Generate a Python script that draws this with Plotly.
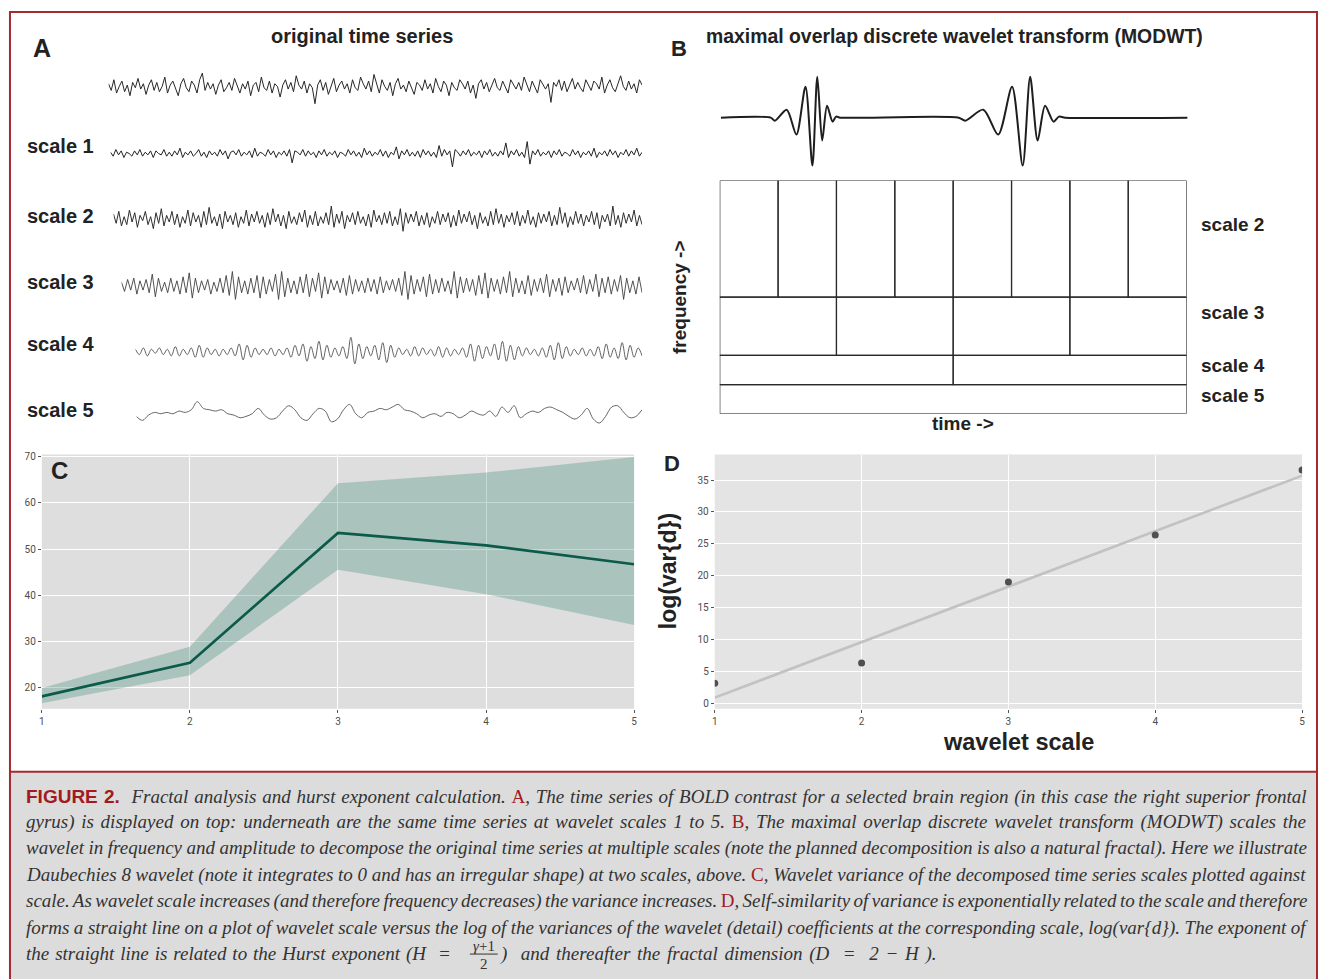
import numpy as np
import plotly.graph_objects as go

W, H = 1323, 979
def px(x): return x / W
def py(y): return 1 - y / H

# ---------------- DATA ----------------
series_labels = ["", "scale 1", "scale 2", "scale 3", "scale 4", "scale 5"]

orig = [3,-2,6,-4,1,5,-3,2,-6,4,0,7,-1,3,-5,2,6,-2,4,-3,
        1,8,-4,2,5,-1,-6,3,7,0,-3,5,2,-4,6,11,-2,4,-1,3,
        -5,2,6,-3,0,4,-2,7,1,-4,3,-1,5,-6,2,4,-3,8,0,-2,
        5,-4,3,1,-7,2,6,-1,4,-3,9,2,-1,5,-4,3,0,-12,2,6,
        -2,4,-5,1,7,-3,2,5,-1,3,-4,6,0,-2,8,3,-1,5,-3,10,
        2,-4,6,1,-2,4,-6,3,7,-1,2,-3,5,0,-5,4,2,-2,6,-1,
        3,-4,7,1,-3,5,2,-6,4,0,-2,6,3,-1,5,-4,2,-8,3,6,
        -1,4,-3,2,7,0,-2,5,1,-4,6,3,-1,4,-2,8,2,-3,5,0,
        -4,6,2,-1,3,-11,4,1,6,-2,5,-3,2,7,-1,4,0,-3,6,2,
        -2,5,3,-1,8,-4,2,6,0,-3,4,9,1,-2,5,-1,3,-4,6,2]
scale1 = [1,-2,3,-1,2,-3,1,0,-2,2,-1,3,-2,1,-1,2,-3,2,0,-1,
          3,-2,1,-2,2,-1,4,-3,1,-1,2,-2,0,3,-2,1,-3,2,-1,1,
          -2,3,-1,2,-4,1,2,-1,3,-2,1,-1,2,-3,4,-2,1,0,-2,3,
          -1,2,-3,1,-1,2,-2,3,-7,2,1,-1,3,-2,2,-1,1,-3,2,-1,
          3,-2,1,-1,2,-3,1,0,-2,3,-1,2,-2,1,-3,4,-1,2,-2,1,
          -1,3,-2,2,-3,1,-1,5,-4,2,-1,3,-2,1,-2,2,-3,3,-1,2,
          -2,1,-3,6,-2,3,-1,2,-10,3,1,-2,2,-1,3,-2,1,-1,2,-3,
          2,-1,3,-2,1,-2,2,-1,8,-3,2,-1,3,-2,1,-3,9,-8,2,-1,
          3,-2,1,-1,2,-3,2,-1,3,-2,1,0,-2,3,-1,2,-3,1,-1,2,
          -2,4,-3,1,-1,2,-2,3,-1,2,-3,1,-1,3,-2,2,-1,4,-2,1]
scale2 = [4,-3,6,-5,2,-4,7,-2,5,-6,3,-1,6,-4,2,-7,5,-3,8,-5,
          3,-2,6,-4,4,-6,2,-3,7,-5,5,-2,3,-6,6,-4,9,-3,2,-5,
          4,-7,6,-2,3,-4,5,-6,2,-3,7,-5,4,-2,6,-3,3,-6,5,-4,
          8,-2,4,-5,3,-7,6,-3,2,-4,5,-2,7,-6,3,-4,6,-5,2,-3,
          5,-4,10,-6,4,-3,6,-7,3,-2,5,-4,6,-3,2,-5,4,-6,7,-2,
          3,-4,5,-3,6,-5,2,-4,8,-9,5,-3,4,-2,6,-5,3,-4,5,-6,
          2,-3,6,-4,4,-2,5,-6,3,-5,7,-3,4,-2,6,-4,3,-7,5,-3,
          2,-5,6,-4,8,-3,4,-6,3,-2,5,-4,6,-5,3,-3,7,-4,2,-6,
          5,-3,4,-2,6,-5,3,-4,9,-3,5,-6,2,-4,6,-3,4,-5,3,-2,
          6,-4,5,-7,3,-2,4,-5,10,-4,3,-6,5,-3,4,-2,7,-5,3,-4]
scale3 = [3,-4,5,-3,6,-6,4,-3,5,-5,9,-8,6,-4,3,-5,6,-4,4,-6,
          7,-5,10,-9,6,-5,4,-3,5,-6,3,-4,6,-5,8,-7,11,-10,7,-5,
          4,-6,6,-5,8,-9,7,-6,5,-4,9,-10,11,-8,6,-5,4,-6,7,-5,
          9,-8,6,-4,10,-9,7,-6,5,-3,4,-5,6,-7,8,-6,5,-4,4,-5,
          6,-4,5,-6,7,-5,4,-3,5,-4,6,-7,11,-10,8,-6,5,-4,7,-8,
          9,-6,5,-5,6,-4,4,-6,11,-9,7,-5,6,-4,5,-7,8,-6,10,-9,
          6,-4,5,-6,7,-5,11,-8,6,-5,4,-6,8,-7,5,-4,6,-5,9,-8,
          5,-4,6,-7,7,-5,4,-3,6,-5,8,-6,5,-4,9,-8,6,-5,7,-6,
          5,-4,8,-10,6,-5,4,-6,7,-5]
scale4 = [2,-2,3,-3,2,-1,3,-2,2,-3,4,-3,2,-2,3,-4,5,-4,3,-2,2,-3,2,-2,3,-3,6,-6,5,-4,3,-2,2,-2,3,-3,2,-2,3,-4,
          5,-3,6,-7,4,-5,8,-6,5,-4,3,-3,4,-5,11,-9,6,-5,4,-3,5,-6,7,-8,5,-4,3,-2,2,-3,4,-3,3,-2,2,-3,4,-4,
          3,-3,2,-2,3,-4,6,-7,5,-5,4,-3,6,-6,8,-7,5,-6,4,-3,3,-2,2,-3,3,-4,5,-6,7,-5,4,-3,2,-2,3,-3,2,-3,
          4,-5,6,-4,3,-5,7,-6,5,-4,3,-3]
scale5 = [-2,-5,-1,1,0,1,0,2,1,3,9,4,3,2,3,0,-1,-3,-2,0,4,-1,-4,-3,2,6,3,-3,-5,0,4,2,-6,-4,3,7,0,-3,1,2,
          4,3,5,7,3,2,0,-3,-1,0,-2,1,0,-3,-1,2,0,-1,2,-2,5,1,6,-3,0,2,1,4,5,3,1,-2,-4,-1,4,-4,-7,-2,5,6,
          1,-3,-2,3]
series_values = [orig, scale1, scale2, scale3, scale4, scale5]

# Daubechies-like wavelet shape (relative time, amplitude)
wavelet_t = [0, 0.06, 0.23, 0.37, 0.50, 0.60, 0.67, 0.74, 0.81, 0.89, 0.94, 1.0]
wavelet_amp = [0, -3, 8, -17, 31, -48, 41, -23, 12, -4, 1, 0]

# MODWT tiling: frequency bands
band_labels = ["scale 5", "scale 4", "scale 3", "scale 2"]
band_lo = [0, 1, 2, 4]
band_hi = [1, 2, 4, 8]
band_cols = [1, 2, 4, 8]

# Panel C: wavelet variance
c_scale = [1, 2, 3, 4, 5]
c_mean = [18.0, 25.3, 53.5, 50.8, 46.7]
c_upper = [19.8, 28.8, 64.3, 66.6, 70.0]
c_lower = [16.5, 22.6, 45.5, 40.2, 33.5]

# Panel D: log variance vs scale
d_scale = [1, 2, 3, 4, 5]
d_logvar = [3.1, 6.3, 19.0, 26.4, 36.6]

# ---------------- FIGURE ----------------
fig = go.Figure()
layout = {}
shapes = []
annotations = []

SANS = "Liberation Sans, Arial, sans-serif"
SERIF = "Liberation Serif, Times New Roman, serif"
TXT = "#222222"
RED = "#a3191f"
CAPC = "#333333"

# Panel A
row_centers = [85, 151, 217, 284, 350, 412]
row_starts = [106, 108, 111, 119, 133, 134]
row_end = 642
row_half = 20
row_span = 15
row_colors = ["#262626", "#222222", "#2e2e2e", "#404040", "#505050", "#555555"]
row_widths = [1.0, 1.0, 1.0, 0.9, 0.9, 0.9]
for i, vals in enumerate(series_values):
    k = i + 1
    xa = f"xaxis{k}" if k > 1 else "xaxis"
    ya = f"yaxis{k}" if k > 1 else "yaxis"
    xr = f"x{k}" if k > 1 else "x"
    yr = f"y{k}" if k > 1 else "y"
    layout[xa] = dict(domain=[px(row_starts[i]), px(row_end)], range=[0, len(vals) - 1],
                      visible=False, anchor=yr)
    layout[ya] = dict(domain=[py(row_centers[i] + row_half), py(row_centers[i] - row_half)],
                      range=[-row_span, row_span], visible=False, anchor=xr)
    fig.add_trace(go.Scatter(x=list(range(len(vals))), y=vals, mode="lines",
                             line=dict(color=row_colors[i], width=row_widths[i],
                                       shape="spline" if i >= 4 else "linear"),
                             xaxis=xr, yaxis=yr, hoverinfo="skip", showlegend=False))

# Panel B wavelet line (axis 7)
wav_starts = [0.107, 0.51]
wav_widths = [0.149, 0.228]
wx, wy = [0.0], [0.0]
for s, w in zip(wav_starts, wav_widths):
    for t, a in zip(wavelet_t, wavelet_amp):
        wx.append(s + t * w)
        wy.append(a)
wx.append(1.0); wy.append(0.0)
layout["xaxis7"] = dict(domain=[px(721), px(1190)], range=[0, 1], visible=False, anchor="y7")
layout["yaxis7"] = dict(domain=[py(165), py(65)], range=[-50, 50], visible=False, anchor="x7")
fig.add_trace(go.Scatter(x=wx, y=wy, mode="lines", line=dict(color="#1e1e1e", width=2, shape="spline", smoothing=0.8),
                         xaxis="x7", yaxis="y7", hoverinfo="skip", showlegend=False))

# Panel B tiling grid (axis 8)
layout["xaxis8"] = dict(domain=[px(720), px(1189)], range=[0, 8], visible=False, anchor="y8")
layout["yaxis8"] = dict(domain=[py(412), py(178)], range=[0, 8], visible=False, anchor="x8")
fig.add_trace(go.Scatter(x=[0, 8], y=[0, 8], mode="markers", marker=dict(opacity=0),
                         xaxis="x8", yaxis="y8", hoverinfo="skip", showlegend=False))
for lo, hi, nc in zip(band_lo, band_hi, band_cols):
    wcol = 8 / nc
    for j in range(nc):
        shapes.append(dict(type="rect", xref="x8", yref="y8", x0=j * wcol, x1=(j + 1) * wcol,
                           y0=lo, y1=hi, line=dict(color="#2a2a2a", width=1.2)))

# Panel C (axis 9)
tickfont = dict(family="Roboto, sans-serif", size=10, color="#4d4d4d")
axis_common = dict(showgrid=True, gridcolor="white", gridwidth=1, zeroline=False, showline=False,
                   ticks="outside", ticklen=3, tickcolor="#555555", tickfont=tickfont)
layout["xaxis9"] = dict(domain=[px(39), px(634)], range=[1, 5], tickvals=c_scale, anchor="y9", **axis_common)
layout["yaxis9"] = dict(domain=[py(708), py(453)], range=[15.3, 70.5], tickvals=[20, 30, 40, 50, 60, 70],
                        anchor="x9", **axis_common)
shapes.append(dict(type="rect", xref="x9 domain", yref="y9 domain", x0=0, x1=1, y0=0, y1=1,
                   fillcolor="#dedede", line=dict(width=0), layer="below"))
fig.add_trace(go.Scatter(x=c_scale, y=c_upper, mode="lines", line=dict(width=0), xaxis="x9", yaxis="y9",
                         hoverinfo="skip", showlegend=False))
fig.add_trace(go.Scatter(x=c_scale, y=c_lower, mode="lines", line=dict(width=0), fill="tonexty",
                         fillcolor="rgba(49,135,112,0.30)", xaxis="x9", yaxis="y9",
                         hoverinfo="skip", showlegend=False))
fig.add_trace(go.Scatter(x=c_scale, y=c_mean, mode="lines", line=dict(color="#0b5a4a", width=2.6),
                         xaxis="x9", yaxis="y9", hoverinfo="skip", showlegend=False))

# Panel D (axis 10)
layout["xaxis10"] = dict(domain=[px(715), px(1305)], range=[1, 5], tickvals=d_scale, anchor="y10", **axis_common)
layout["yaxis10"] = dict(domain=[py(708), py(453)], range=[-0.9, 39.0], tickvals=[0, 5, 10, 15, 20, 25, 30, 35],
                         anchor="x10", **axis_common)
shapes.append(dict(type="rect", xref="x10 domain", yref="y10 domain", x0=0, x1=1, y0=0, y1=1,
                   fillcolor="#e4e4e4", line=dict(width=0), layer="below"))
slope, intercept = np.polyfit(d_scale, d_logvar, 1)
fit_x = [d_scale[0], d_scale[-1]]
fit_y = [intercept + slope * v for v in fit_x]
fig.add_trace(go.Scatter(x=fit_x, y=fit_y, mode="lines", line=dict(color="#c2c2c2", width=2.6),
                         xaxis="x10", yaxis="y10", hoverinfo="skip", showlegend=False))
fig.add_trace(go.Scatter(x=d_scale, y=d_logvar, mode="markers", marker=dict(color="#505050", size=7),
                         xaxis="x10", yaxis="y10", hoverinfo="skip", showlegend=False))

# ---------------- TEXT ----------------
def ann(text, x, y, size, xanchor="center", angle=0, family=SANS, color=TXT, yanchor="middle"):
    annotations.append(dict(text=text, x=px(x), y=py(y), xref="paper", yref="paper", xanchor=xanchor,
                            yanchor=yanchor, showarrow=False, textangle=angle, borderpad=0,
                            font=dict(family=family, size=size, color=color)))

DY = -2.5  # optical centring correction for sans labels
ann("<b>A</b>", 39, 48 + DY, 25)
ann("<b>original time series</b>", 361, 36 + DY, 20)
label_y = [146, 216, 282, 345, 411]
for lab, yy in zip(series_labels[1:], label_y):
    ann(f"<b>{lab}</b>", 23, yy + DY, 20, xanchor="left")

band_label_y = [396, 366, 313, 225]
for lab, yy in zip(band_labels, band_label_y):
    ann(f"<b>{lab}</b>", 1202, yy + DY, 19, xanchor="left")

ann("<b>B</b>", 679, 48 + DY, 22)
ann("<b>maximal overlap discrete wavelet transform (MODWT)</b>", 705, 36 + DY, 19.4, xanchor="left")
ann("<b>frequency -></b>", 679, 295, 19, angle=-90)
ann("<b>time -></b>", 964, 424 + DY, 19)
ann("<b>C</b>", 57, 471 + DY, 24)
ann("<b>D</b>", 672, 464 + DY, 22)
ann("<b>wavelet scale</b>", 1020, 744 + DY, 23.5)
ann("<b>log(var{d})</b>", 668, 570, 23, angle=-90)

# Frame and caption box
shapes.append(dict(type="rect", xref="paper", yref="paper", x0=px(7), x1=px(1320), y0=py(990), y1=py(771),
                   fillcolor="#dcdcdc", line=dict(width=0), layer="below"))
shapes.append(dict(type="rect", xref="paper", yref="paper", x0=px(7), x1=px(1320), y0=py(990), y1=py(9),
                   line=dict(color="#a52a2e", width=2), fillcolor="rgba(0,0,0,0)", layer="above"))
shapes.append(dict(type="line", xref="paper", yref="paper", x0=px(7), x1=px(1320), y0=py(771), y1=py(771),
                   line=dict(color="#a52a2e", width=2)))

def R(s):
    return f"</i><span style='color:{RED}'>{s}</span><i>"

def WS(text, ws):
    return f"<span style='word-spacing:{ws}px'>{text}</span>"

cap_lines = [
    f"<b><span style='font-family:Liberation Sans;color:{RED}'>FIGURE 2.</span></b>  <i>Fractal analysis and hurst exponent calculation. {R('A')}, The time series of BOLD contrast for a selected brain region (in this case the right superior frontal</i>",
    f"<i>gyrus) is displayed on top: underneath are the same time series at wavelet scales 1 to 5. {R('B')}, The maximal overlap discrete wavelet transform (MODWT) scales the</i>",
    "<i>wavelet in frequency and amplitude to decompose the original time series at multiple scales (note the planned decomposition is also a natural fractal). Here we illustrate</i>",
    f"<i>Daubechies 8 wavelet (note it integrates to 0 and has an irregular shape) at two scales, above. {R('C')}, Wavelet variance of the decomposed time series scales plotted against</i>",
    f"<i>scale. As wavelet scale increases (and therefore frequency decreases) the variance increases. {R('D')}, Self-similarity of variance is exponentially related to the scale and therefore</i>",
    "<i>forms a straight line on a plot of wavelet scale versus the log of the variances of the wavelet (detail) coefficients at the corresponding scale, log(var{d}). The exponent of</i>",
]
cap_ws = [1.0, 1.95, -0.25, -0.05, -1.35, -0.2]
cap_y = [796, 822, 848, 875, 901, 928]
CAP = 19
for t, ws, yy in zip(cap_lines, cap_ws, cap_y):
    ann(WS(t, ws), 22, yy, CAP, xanchor="left", family=SERIF, color=CAPC)
ann(WS("<i>the straight line is related to the Hurst exponent (H  =</i>", 1.2), 22, 954, CAP,
    xanchor="left", family=SERIF, color=CAPC)
ann("<i>γ</i>+1", 483, 946, 15, family=SERIF, color=CAPC)
ann("2", 483, 964, 15, family=SERIF, color=CAPC)
shapes.append(dict(type="line", xref="paper", yref="paper", x0=px(469), x1=px(497), y0=py(954), y1=py(954),
                   line=dict(color=CAPC, width=1)))
ann(WS("<i>)  and thereafter the fractal dimension (D  =  2 − H ).</i>", 2.0), 498, 954, CAP,
    xanchor="left", family=SERIF, color=CAPC)

layout.update(dict(width=W, height=H, margin=dict(l=0, r=0, t=0, b=0), paper_bgcolor="white",
                   plot_bgcolor="rgba(0,0,0,0)", showlegend=False, shapes=shapes, annotations=annotations))
fig.update_layout(**layout)
fig.write_html("out.html", config={"displayModeBar": False},
               post_script="document.body.style.margin='0';document.body.style.overflow='hidden';")
